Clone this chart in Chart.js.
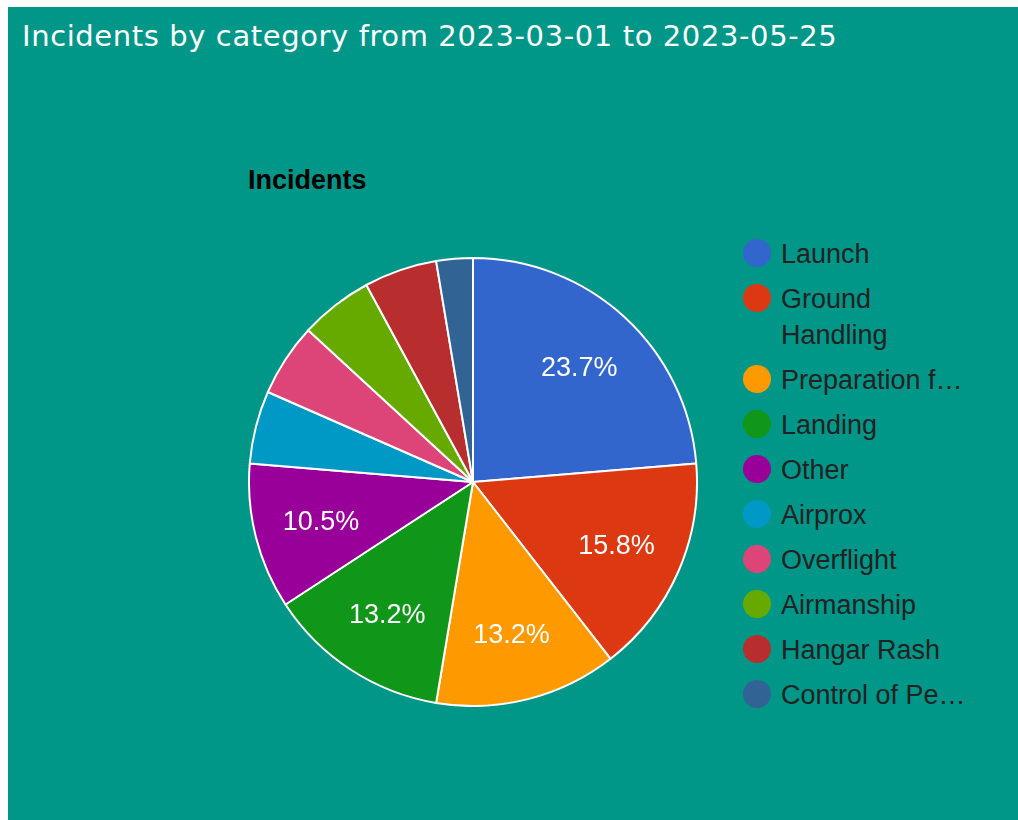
<!DOCTYPE html>
<html>
<head>
<meta charset="utf-8">
<script src="https://cdn.jsdelivr.net/npm/chart.js@4.4.0/dist/chart.umd.min.js"></script>
<style>
  html, body { margin: 0; padding: 0; background: #ffffff; }
  #panel {
    position: absolute; left: 8px; top: 7px; width: 1010px; height: 813px;
    background: #009688; overflow: hidden;
  }
  #titulo {
    position: absolute; left: 14px; top: 15px;
    font-family: "DejaVu Sans", Verdana, sans-serif; font-size: 29px; line-height: 29px;
    letter-spacing: 0.6px; color: #ffffff; white-space: nowrap;
  }
  #subtitulo {
    position: absolute; left: 240px; top: 160px;
    font-family: "Liberation Sans", Arial, sans-serif; font-size: 27px; line-height: 27px;
    font-weight: bold; color: #000000;
  }
  #lienzo { position: absolute; left: 240px; top: 250px; }
  #leyenda {
    position: absolute; left: 735px; top: 229px;
    font-family: "Liberation Sans", Arial, sans-serif; font-size: 27px; line-height: 36px;
    color: #222222;
  }
  .item { display: flex; align-items: flex-start; margin-bottom: 9px; }
  .punto { width: 28px; height: 28px; border-radius: 50%; margin-top: 3px; margin-right: 10px; flex: none; }
  .texto { max-width: 196px; }
</style>
</head>
<body>
<div id="panel">
  <div id="titulo">Incidents by category from 2023-03-01 to 2023-05-25</div>
  <div id="subtitulo">Incidents</div>
  <canvas id="lienzo" width="450" height="450"></canvas>
  <div id="leyenda"></div>
</div>
<script>
// Categorías (texto tal como aparece en la leyenda)
const categorias = ["Launch", "Ground Handling", "Preparation f\u2026", "Landing", "Other",
    "Airprox", "Overflight", "Airmanship", "Hangar Rash", "Control of Pe\u2026"];

// Número de incidentes por categoría (38 en total)
const valores = [9, 6, 5, 5, 4, 2, 2, 2, 2, 1];

// Paleta por defecto de Google Charts
const colores = ['#3366cc', '#dc3912', '#ff9900', '#109618', '#990099',
    '#0099c6', '#dd4477', '#66aa00', '#b82e2e', '#316395'];

const total = valores.reduce((a, b) => a + b, 0);

// Porcentajes dentro de las porciones grandes
const etiquetasPorcentaje = {
    id: 'etiquetasPorcentaje',
    afterDatasetsDraw(chart) {
        const ctx = chart.ctx;
        const meta = chart.getDatasetMeta(0);
        ctx.save();
        ctx.font = '27px "Liberation Sans", Arial, sans-serif';
        ctx.fillStyle = '#ffffff';
        ctx.textAlign = 'center';
        ctx.textBaseline = 'middle';
        meta.data.forEach((arco, i) => {
            const pct = valores[i] / total * 100;
            if (pct < 10) return;
            const ang = (arco.startAngle + arco.endAngle) / 2;
            const r = arco.outerRadius * 0.7;
            ctx.fillText(pct.toFixed(1) + '%', arco.x + Math.cos(ang) * r, arco.y + Math.sin(ang) * r + 2);
        });
        ctx.restore();
    }
};

const grafico = new Chart(document.getElementById('lienzo').getContext('2d'), {
    type: 'pie',
    data: {
        labels: categorias,
        datasets: [{
            data: valores,
            backgroundColor: colores,
            borderColor: '#ffffff',
            borderWidth: 2,
            hoverOffset: 0
        }]
    },
    options: {
        responsive: false,
        animation: false,
        layout: { padding: 0 },
        plugins: {
            legend: { display: false },
            tooltip: { enabled: false }
        }
    },
    plugins: [etiquetasPorcentaje]
});

// Leyenda en HTML a partir de los datos del gráfico
const leyenda = document.getElementById('leyenda');
grafico.data.labels.forEach((texto, i) => {
    const item = document.createElement('div');
    item.className = 'item';
    item.innerHTML = '<span class="punto" style="background:' + colores[i] + '"></span>' +
        '<span class="texto">' + texto + '</span>';
    leyenda.appendChild(item);
});
</script>
</body>
</html>
